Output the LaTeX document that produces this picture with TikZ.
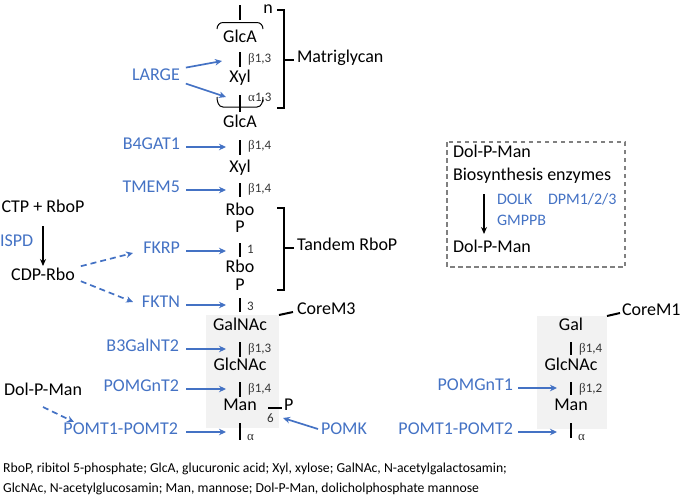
\documentclass[tikz,border=0pt]{standalone}
\usepackage{fontspec}
\setmainfont{Carlito}
\newfontfamily\greekfont{Liberation Serif}
\usetikzlibrary{arrows.meta}
\definecolor{eblue}{HTML}{4472C4}
\definecolor{boxgray}{HTML}{F2F2F2}
\definecolor{dashgray}{HTML}{808080}
\newcommand{\mybeta}{{\greekfont β}}
\newcommand{\myalpha}{{\greekfont α}}
\begin{document}
\begin{tikzpicture}[x=1pt,y=-1pt,
  basetxt/.style={inner sep=0pt, outer sep=0pt, font=\fontsize{18}{21}\selectfont},
  sug/.style={basetxt, anchor=mid},
  enz/.style={basetxt, text=eblue},
  boxenz/.style={inner sep=0pt, outer sep=0pt, font=\fontsize{16}{19}\selectfont, text=eblue, anchor=mid west},
  lnk/.style={inner sep=0pt, anchor=mid west, font=\fontsize{13}{15}\selectfont, text=black!80},
  foot/.style={inner sep=0pt, anchor=mid west, font=\fontsize{13.7}{16}\selectfont},
  bond/.style={line width=2.6pt},
  brk/.style={line width=2pt},
  bracecurve/.style={line width=1pt},
  earr/.style={draw=eblue, line width=1.7pt, -{Stealth[length=7pt,width=6.5pt]}},
  edash/.style={earr, dash pattern=on 6pt off 4pt},
  karr/.style={line width=1.5pt, -{Stealth[length=7pt,width=6pt]}}]
\useasboundingbox (0,0) rectangle (685,498);

% gray backgrounds
\fill[boxgray] (206,315) rectangle (279,428);
\fill[boxgray] (537,316) rectangle (607,429);

% ---------- main chain ----------
\node[sug] (glca1) at (240,40) {GlcA};
\node[sug] (xyl1) at (240,80) {Xyl};
\node[sug] (glca2) at (240,125) {GlcA};
\node[sug] (xyl2) at (240,170) {Xyl};
\node[sug] (rbo1) at (240,213) {Rbo};
\node[sug] (p1) at (240,230) {P};
\node[sug] (rbo2) at (240,270) {Rbo};
\node[sug] (p2) at (240,288) {P};
\node[sug] (galnac) at (240,328) {GalNAc};
\node[sug] (glcnac) at (240,368) {GlcNAc};
\node[sug] (man) at (240,408) {Man};
\node[sug, anchor=mid west] (pman) at (284,408) {P};

\draw[bond] (240,5) -- (240,20);
\draw[bond] (240,52) -- (240,67);
\draw[bond] (240,95) -- (240,112);
\draw[bond] (240,140) -- (240,155);
\draw[bond] (240,183) -- (240,197);
\draw[bond] (240,243) -- (240,257);
\draw[bond] (240,298) -- (240,312);
\draw[bond] (240,342) -- (240,357);
\draw[bond] (240,382) -- (240,397);
\draw[bond] (240,423) -- (240,440);
\draw[line width=2pt] (268,408) -- ([xshift=-2pt]pman.mid west);

\node[lnk] (l1) at (248,60) {\mybeta1,3};
\node[lnk] (l2) at (248,99) {\myalpha1,3};
\node[lnk] (l3) at (248,147) {\mybeta1,4};
\node[lnk] (l4) at (248,190) {\mybeta1,4};
\node[lnk] (l5) at (247,251) {1};
\node[lnk] (l6) at (247,308) {3};
\node[lnk] (l7) at (248,350) {\mybeta1,3};
\node[lnk] (l8) at (248,390) {\mybeta1,4};
\node[lnk] (l9) at (247,438) {\myalpha};
\node[lnk] (l10) at (267,420) {6};

% repeat braces
\draw[bracecurve] (217,29) to[out=90,in=180] (223,22.5) -- (257,22.5) to[out=0,in=90] (263,29);
\draw[bracecurve] (217,97) to[out=-90,in=180] (223,107) -- (257,107) to[out=0,in=-90] (263,97);
\node[basetxt, anchor=mid] (n) at (268,11) {n};

% brackets
\draw[brk] (277,10) -- (284,10) -- (284,108) -- (277,108);
\draw[brk] (284,60) -- (294,60);
\node[basetxt, anchor=mid west] (matri) at (297,60) {Matriglycan};
\draw[brk] (277,208) -- (284,208) -- (284,290) -- (277,290);
\draw[brk] (284,248) -- (294,248);
\node[basetxt, anchor=mid west] (tandem) at (297,248) {Tandem RboP};

% core labels
\coordinate (cm3) at (279,315);
\node[basetxt, anchor=mid west] (corem3) at (297,312) {CoreM3};
\draw[brk] (cm3) -- ([xshift=-4pt]corem3.mid west);
\coordinate (cm1) at (607,316);
\node[basetxt, anchor=mid west] (corem1) at (622,313) {CoreM1};
\draw[brk] (cm1) -- ([xshift=-2pt]corem1.mid west);

% ---------- enzymes left ----------
\node[enz, anchor=mid] (large) at (156,78) {LARGE};
\coordinate (tl1) at (222,61);
\coordinate (tl2) at (226,97);
\draw[earr] ([xshift=6pt,yshift=7pt]large.east) -- (tl1);
\draw[earr] ([xshift=6pt,yshift=-9pt]large.east) -- (tl2);

\node[enz, anchor=mid east] (b4gat1) at (180,147) {B4GAT1};
\node[enz, anchor=mid east] (tmem5) at (180,190) {TMEM5};
\node[enz, anchor=mid east] (fkrp) at (180,251) {FKRP};
\node[enz, anchor=mid east] (fktn) at (180,305) {FKTN};
\node[enz, anchor=mid east] (b3galnt2) at (179,349) {B3GalNT2};
\node[enz, anchor=mid east] (pomgnt2) at (179,389) {POMGnT2};
\node[enz, anchor=mid east] (pomt) at (178,432) {POMT1-POMT2};

\coordinate (t1) at (226,147);
\coordinate (t2) at (226,190);
\coordinate (t3) at (226,251);
\coordinate (t4) at (226,305);
\coordinate (t5) at (226,349);
\coordinate (t6) at (226,389);
\coordinate (t7) at (226,432);
\draw[earr] ([xshift=6pt]b4gat1.mid east) -- (t1);
\draw[earr] ([xshift=6pt]tmem5.mid east) -- (t2);
\draw[earr] ([xshift=6pt]fkrp.mid east) -- (t3);
\draw[earr] ([xshift=6pt]fktn.mid east) -- (t4);
\draw[earr] ([xshift=7pt]b3galnt2.mid east) -- (t5);
\draw[earr] ([xshift=7pt]pomgnt2.mid east) -- (t6);
\draw[earr] ([xshift=8pt]pomt.mid east) -- (t7);

% POMK
\node[enz, anchor=mid west] (pomk) at (321,432) {POMK};
\coordinate (tk) at (283,418);
\draw[earr] ([xshift=-3pt,yshift=3pt]pomk.mid west) -- (tk);

% CDP-Rbo pathway
\node[basetxt, anchor=mid] (ctp) at (43,210) {CTP + RboP};
\node[basetxt, anchor=mid] (cdp) at (43,278) {CDP-Rbo};
\node[enz, anchor=mid west] (ispd) at (0,244) {ISPD};
\draw[karr] (43,226) -- (43,266);
\coordinate (d1) at (133,253);
\coordinate (d2) at (133,302);
\draw[edash] ([xshift=6pt,yshift=8pt]cdp.east) -- (d1);
\draw[edash] ([xshift=6pt,yshift=-7pt]cdp.east) -- (d2);

\node[basetxt, anchor=mid] (dpm) at (43,393) {Dol-P-Man};
\coordinate (d3) at (74,422);
\draw[edash] (43,407) -- (d3);

% ---------- right chain ----------
\node[sug] (gal) at (571,328) {Gal};
\node[sug] (glcnacr) at (571,368) {GlcNAc};
\node[sug] (manr) at (571,408) {Man};
\draw[bond] (571,342) -- (571,355);
\draw[bond] (571,382) -- (571,395);
\draw[bond] (571,423) -- (571,438);
\node[lnk] (r1) at (579,350) {\mybeta1,4};
\node[lnk] (r2) at (579,390) {\mybeta1,2};
\node[lnk] (r3) at (578,438) {\myalpha};

\node[enz, anchor=mid east] (pomgnt1) at (513,388) {POMGnT1};
\node[enz, anchor=mid east] (pomtr) at (513,432) {POMT1-POMT2};
\coordinate (tr1) at (557,388);
\coordinate (tr2) at (557,432);
\draw[earr] ([xshift=5pt]pomgnt1.mid east) -- (tr1);
\draw[earr] ([xshift=5pt]pomtr.mid east) -- (tr2);

% ---------- dashed box ----------
\draw[dashgray, line width=1.6pt, dash pattern=on 4.5pt off 3.5pt] (447,142) rectangle (625,267);
\node[basetxt, anchor=mid west] (dpm1) at (453,155) {Dol-P-Man};
\node[basetxt, anchor=mid west] (bio) at (453,178) {Biosynthesis enzymes};
\node[basetxt, anchor=mid west] (dpm2) at (453,250) {Dol-P-Man};
\draw[karr] (484,194) -- (484,234);
\node[boxenz] (dolk) at (497,202) {DOLK};
\node[boxenz] (dpm123) at (548,202) {DPM1/2/3};
\node[boxenz] (gmppb) at (497,223) {GMPPB};

% ---------- footer ----------
\node[foot] (f1) at (3,470) {RboP, ribitol 5-phosphate; GlcA, glucuronic acid; Xyl, xylose; GalNAc, N-acetylgalactosamin;};
\node[foot] (f2) at (3,490) {GlcNAc, N-acetylglucosamin; Man, mannose; Dol-P-Man, dolicholphosphate mannose};
\end{tikzpicture}
\end{document}
